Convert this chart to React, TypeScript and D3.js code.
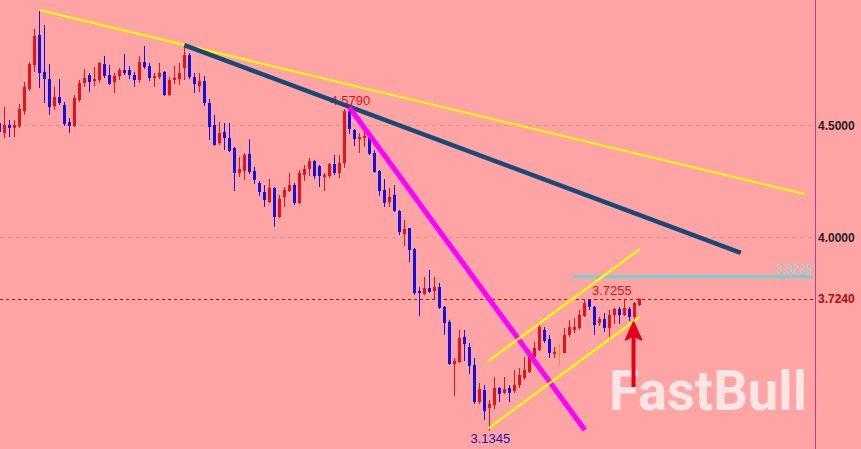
import React from "react";
import * as d3 from "d3";

// candle OHLC values, one entry per bar
const opens = [
  4.509, 4.464, 4.5, 4.487, 4.496, 4.562, 4.661, 4.768, 4.902, 4.737,
  4.705, 4.585, 4.625, 4.589, 4.513, 4.496, 4.612, 4.688, 4.723, 4.696,
  4.701, 4.772, 4.723, 4.692, 4.719, 4.745, 4.745, 4.723, 4.701, 4.781,
  4.763, 4.71, 4.714, 4.737, 4.634, 4.701, 4.705, 4.754, 4.812, 4.714,
  4.674, 4.696, 4.598, 4.5, 4.42, 4.469, 4.442, 4.397, 4.286, 4.295,
  4.371, 4.295, 4.241, 4.201, 4.156, 4.219, 4.089, 4.179, 4.205, 4.232,
  4.152, 4.277, 4.304, 4.339, 4.317, 4.268, 4.272, 4.326, 4.286, 4.33,
  4.562, 4.478, 4.437, 4.442, 4.446, 4.375, 4.295, 4.21, 4.156, 4.188,
  4.116, 4.013, 4.04, 3.946, 3.759, 3.746, 3.772, 3.759, 3.777, 3.688,
  3.621, 3.433, 3.442, 3.554, 3.509, 3.429, 3.263, 3.317, 3.237, 3.25,
  3.326, 3.304, 3.326, 3.313, 3.339, 3.371, 3.397, 3.464, 3.496, 3.585,
  3.545, 3.478, 3.487, 3.482, 3.563, 3.585, 3.594, 3.647, 3.719, 3.688,
  3.616, 3.634, 3.594, 3.652, 3.679, 3.652, 3.679, 3.643, 3.696,
];
const highs = [
  4.518, 4.58, 4.522, 4.522, 4.594, 4.692, 4.781, 4.929, 5.013, 4.946,
  4.772, 4.67, 4.705, 4.603, 4.531, 4.634, 4.701, 4.75, 4.732, 4.759,
  4.781, 4.808, 4.768, 4.732, 4.754, 4.817, 4.763, 4.737, 4.808, 4.853,
  4.777, 4.732, 4.777, 4.741, 4.714, 4.763, 4.777, 4.857, 4.821, 4.732,
  4.732, 4.719, 4.616, 4.545, 4.513, 4.509, 4.509, 4.402, 4.357, 4.375,
  4.437, 4.313, 4.25, 4.232, 4.259, 4.223, 4.188, 4.223, 4.286, 4.241,
  4.299, 4.321, 4.353, 4.344, 4.321, 4.286, 4.33, 4.366, 4.366, 4.571,
  4.579, 4.482, 4.464, 4.469, 4.451, 4.388, 4.299, 4.259, 4.219, 4.232,
  4.121, 4.076, 4.04, 3.951, 3.777, 3.821, 3.853, 3.821, 3.795, 3.692,
  3.63, 3.46, 3.585, 3.585, 3.527, 3.46, 3.348, 3.339, 3.272, 3.375,
  3.33, 3.375, 3.339, 3.406, 3.415, 3.464, 3.496, 3.531, 3.607, 3.598,
  3.563, 3.509, 3.522, 3.594, 3.63, 3.638, 3.674, 3.723, 3.723, 3.692,
  3.643, 3.661, 3.674, 3.683, 3.688, 3.725, 3.688, 3.71, 3.7255,
];
const lows = [
  4.46, 4.442, 4.446, 4.446, 4.487, 4.545, 4.652, 4.737, 4.665, 4.598,
  4.545, 4.567, 4.589, 4.496, 4.464, 4.491, 4.603, 4.67, 4.647, 4.674,
  4.688, 4.71, 4.679, 4.643, 4.701, 4.723, 4.705, 4.67, 4.688, 4.75,
  4.696, 4.67, 4.705, 4.63, 4.63, 4.683, 4.679, 4.701, 4.705, 4.643,
  4.647, 4.585, 4.433, 4.406, 4.411, 4.388, 4.379, 4.205, 4.268, 4.255,
  4.281, 4.237, 4.183, 4.134, 4.152, 4.045, 4.085, 4.134, 4.201, 4.143,
  4.147, 4.25, 4.272, 4.259, 4.223, 4.205, 4.263, 4.277, 4.263, 4.308,
  4.46, 4.406, 4.375, 4.402, 4.366, 4.286, 4.183, 4.134, 4.134, 4.112,
  4.009, 3.96, 3.888, 3.741, 3.647, 3.741, 3.75, 3.719, 3.679, 3.563,
  3.429, 3.29, 3.437, 3.446, 3.388, 3.255, 3.255, 3.183, 3.1345, 3.232,
  3.263, 3.299, 3.263, 3.304, 3.326, 3.362, 3.393, 3.46, 3.491, 3.527,
  3.46, 3.46, 3.424, 3.482, 3.554, 3.571, 3.585, 3.643, 3.674, 3.563,
  3.603, 3.576, 3.554, 3.612, 3.612, 3.647, 3.625, 3.634, 3.692,
];
const closes = [
  4.469, 4.5, 4.487, 4.5, 4.571, 4.67, 4.772, 4.897, 4.732, 4.705,
  4.58, 4.625, 4.598, 4.504, 4.496, 4.621, 4.688, 4.71, 4.692, 4.705,
  4.777, 4.719, 4.683, 4.719, 4.745, 4.732, 4.723, 4.701, 4.781, 4.759,
  4.71, 4.719, 4.732, 4.634, 4.701, 4.71, 4.732, 4.812, 4.714, 4.683,
  4.696, 4.598, 4.491, 4.411, 4.464, 4.442, 4.384, 4.286, 4.304, 4.366,
  4.29, 4.255, 4.201, 4.165, 4.219, 4.089, 4.17, 4.21, 4.232, 4.152,
  4.286, 4.304, 4.339, 4.272, 4.272, 4.277, 4.326, 4.286, 4.33, 4.562,
  4.482, 4.437, 4.446, 4.451, 4.371, 4.29, 4.205, 4.152, 4.179, 4.116,
  4.022, 4.036, 3.942, 3.75, 3.75, 3.772, 3.755, 3.777, 3.683, 3.616,
  3.433, 3.446, 3.549, 3.522, 3.424, 3.263, 3.321, 3.223, 3.255, 3.326,
  3.299, 3.321, 3.304, 3.339, 3.384, 3.406, 3.469, 3.505, 3.598, 3.536,
  3.482, 3.487, 3.487, 3.563, 3.598, 3.598, 3.652, 3.705, 3.688, 3.607,
  3.634, 3.594, 3.652, 3.679, 3.652, 3.683, 3.643, 3.705, 3.724,
];

const gridPrices = [4.5, 4.0];
const axisLabels = ["4.5000", "4.0000"];

const currentPrice = 3.724;
const resistancePrice = 3.8225;
const resistanceStart = 114.7;

// trend lines as [bar index, price] pairs
const upperTrend = [[8, 5.013], [161.1, 4.192]];
const mainTrend = [[37, 4.857], [148.3, 3.929]];
const steepTrend = [[70, 4.579], [117.1, 3.138]];
const channelTop = [[97.8, 3.446], [128.1, 3.946]];
const channelBottom = [[97.9, 3.147], [128.1, 3.643]];

const peakIndex = 70;
const peakPrice = 4.579;
const troughIndex = 98;
const troughPrice = 3.1345;
const lastHighIndex = 122.5;
const lastHighPrice = 3.7255;

const arrowIndex = 126.85;
const arrowTop = 3.621;
const arrowBottom = 3.33;

const W = 861;
const H = 449;
const plotRight = 815;

export default function App() {
  const x = d3.scaleLinear().domain([0, 163]).range([-0.7, 814.3]);
  const y = d3.scaleLinear().domain([4.0, 4.5]).range([237, 125]);

  const fmt = d3.format(".4f");
  const line = d3
    .line<number[]>()
    .x((d) => x(d[0]))
    .y((d) => y(d[1]));

  const candles = opens.map((o, i) => {
    const c = closes[i];
    const cx = Math.round(x(i)) + 0.5;
    const top = y(Math.max(o, c));
    const bot = y(Math.min(o, c));
    const color = c > o ? "#e2131a" : c < o ? "#1212e0" : "#ff8a1c";
    return (
      <g key={i}>
        <line x1={cx} x2={cx} y1={y(highs[i])} y2={y(lows[i])} stroke={color} strokeWidth={1} />
        <rect x={cx - 1.5} y={top} width={3} height={Math.max(1, bot - top)} fill={color} />
      </g>
    );
  });

  const ax = x(arrowIndex);
  const at = y(arrowTop);
  const ab = y(arrowBottom);

  return (
    <svg
      width={W}
      height={H}
      style={{ position: "absolute", left: 0, top: 0, display: "block" }}
      fontFamily="'Liberation Sans', Arial, sans-serif"
    >
      <rect width={W} height={H} fill="#ffa4a4" />

      {gridPrices.map((p) => (
        <line
          key={p}
          x1={0}
          x2={plotRight}
          y1={Math.round(y(p)) + 0.5}
          y2={Math.round(y(p)) + 0.5}
          stroke="#e88c8c"
          strokeDasharray="4,4"
        />
      ))}

      <text
        x={609}
        y={410}
        fontFamily="Roboto, 'Open Sans', sans-serif"
        fontWeight="bold"
        fontSize={56}
        textLength={198}
        lengthAdjust="spacingAndGlyphs"
        fill="#ffffff"
        fillOpacity={0.7}
      >
        FastBull
      </text>

      <line
        x1={0}
        x2={plotRight}
        y1={Math.round(y(currentPrice)) + 0.5}
        y2={Math.round(y(currentPrice)) + 0.5}
        stroke="#c40d0d"
        strokeDasharray="3,3"
      />

      {candles}

      <text x={x(peakIndex) + 1} y={y(peakPrice) - 2} fontSize={13} fill="#e0101a" textAnchor="middle">
        {fmt(peakPrice)}
      </text>
      <text x={x(troughIndex) + 1} y={y(troughPrice) + 12} fontSize={13} fill="#1a1aa8" textAnchor="middle">
        {fmt(troughPrice)}
      </text>
      <text x={x(lastHighIndex)} y={y(lastHighPrice) - 3} fontSize={13} fill="#e0101a" textAnchor="middle">
        {fmt(lastHighPrice)}
      </text>

      <line
        x1={x(resistanceStart)}
        x2={plotRight - 2}
        y1={y(resistancePrice)}
        y2={y(resistancePrice)}
        stroke="#6fd3d3"
        strokeWidth={3}
      />
      <text x={plotRight - 2} y={y(resistancePrice) - 4} fontSize={12} fill="#7fdcdc" textAnchor="end">
        {fmt(resistancePrice)}
      </text>

      <path d={line(upperTrend as number[][]) || ""} stroke="#ffff00" strokeWidth={2} fill="none" />
      <path d={line(mainTrend as number[][]) || ""} stroke="#174a78" strokeWidth={4.5} fill="none" />
      <path d={line(steepTrend as number[][]) || ""} stroke="#ff00ff" strokeWidth={5} fill="none" />
      <path d={line(channelTop as number[][]) || ""} stroke="#ffff00" strokeWidth={2.2} fill="none" />
      <path d={line(channelBottom as number[][]) || ""} stroke="#ffff00" strokeWidth={2.2} fill="none" />

      <line x1={ax} x2={ax} y1={ab} y2={at + 14} stroke="#e00018" strokeWidth={4} />
      <path
        d={`M${ax},${at} L${ax + 8},${at + 18} L${ax},${at + 14} L${ax - 8},${at + 18} Z`}
        fill="#e00018"
        stroke="#e00018"
        strokeWidth={1.5}
        strokeLinejoin="round"
      />

      <line x1={plotRight + 0.5} x2={plotRight + 0.5} y1={0} y2={H} stroke="#cc3399" strokeWidth={1} />

      {gridPrices.map((p, i) => (
        <text key={p} x={plotRight + 3} y={y(p) + 4.5} fontSize={12} fontWeight="bold" fill="#222">
          {axisLabels[i]}
        </text>
      ))}
      <text x={plotRight + 3} y={y(currentPrice) + 4.5} fontSize={12} fontWeight="bold" fill="#b00a0a">
        {fmt(currentPrice)}
      </text>
    </svg>
  );
}
